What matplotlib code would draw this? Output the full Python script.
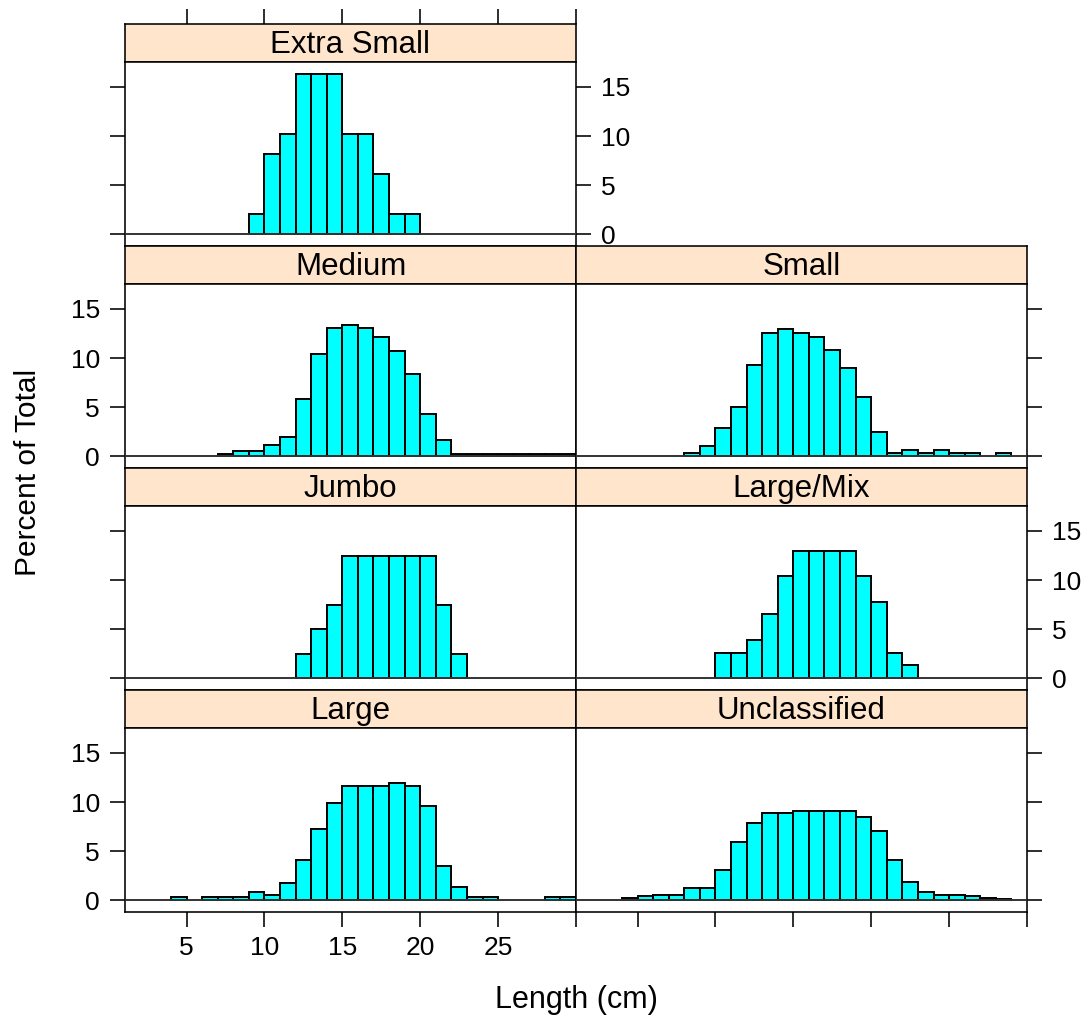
import numpy as np
import matplotlib
matplotlib.use("Agg")
import matplotlib.pyplot as plt

plt.rcParams["font.family"] = ["Liberation Sans", "DejaVu Sans"]

# Percent of total per 1-cm length bin; each series starts at its first bin edge (cm)
panel_names = ["Extra Small", "Medium", "Small", "Jumbo", "Large/Mix", "Large", "Unclassified"]

extra_small_start = 9
extra_small = [2.04, 8.16, 10.2, 16.33, 16.33, 16.33, 10.2, 10.2, 6.12, 2.04, 2.04]

medium_start = 7
medium = [0.24, 0.48, 0.48, 1.12, 1.9, 5.8, 10.43, 13.02, 13.4, 13.02, 12.17, 10.74,
          8.39, 4.3, 1.64, 0.24, 0.24, 0.24, 0.24, 0.24, 0.24, 0.24, 0.24]

small_start = 8
small = [0.27, 1.06, 2.83, 5.01, 9.31, 12.51, 12.92, 12.55, 12.14, 10.77, 8.97, 6.07,
         2.42, 0.27, 0.65, 0.27, 0.65, 0.27, 0.27, 0.0, 0.27]

jumbo_start = 12
jumbo = [2.5, 5.0, 7.5, 12.5, 12.5, 12.5, 12.5, 12.5, 12.5, 7.5, 2.5]

large_mix_start = 10
large_mix = [2.6, 2.6, 3.9, 6.5, 10.4, 13.0, 13.0, 13.0, 13.0, 10.4, 7.8, 2.6, 1.3]

large_start = 4
large = [0.27, 0.0, 0.27, 0.27, 0.27, 0.85, 0.54, 1.77, 4.05, 7.21, 9.86, 11.63, 11.63,
         11.63, 11.9, 11.63, 9.59, 3.44, 1.36, 0.27, 0.27, 0.0, 0.0, 0.0, 0.27, 0.27]

unclassified_start = 4
unclassified = [0.2, 0.37, 0.51, 0.51, 1.19, 1.19, 3.03, 5.95, 7.86, 8.88, 8.84, 9.05,
                9.05, 9.05, 9.05, 8.47, 7.01, 4.08, 1.87, 0.78, 0.51, 0.51, 0.37, 0.2, 0.1]

x_ticks = [5, 10, 15, 20, 25, 30]
x_tick_labels = ["5", "10", "15", "20", "25", ""]
y_ticks = [0, 5, 10, 15]
y_tick_labels = ["0", "5", "10", "15"]

XLIM = (1.05, 30.0)
YLIM = (-1.22, 17.55)

W, H = 1090, 1025
fig = plt.figure(figsize=(W / 100, H / 100), dpi=100)


def box(x0, y0, x1, y1):
    return [x0 / W, 1 - y1 / H, (x1 - x0) / W, (y1 - y0) / H]


COLS = [(125, 576), (576, 1027)]
ROW_TOP = 24
ROW_STEP = 222
STRIP_H = 38

LW = 1.15
TICK_LEN = 11
TICK_FS = 19

layout = [
    ("Extra Small", extra_small_start, extra_small, 0, 0),
    ("Medium", medium_start, medium, 1, 0),
    ("Small", small_start, small, 1, 1),
    ("Jumbo", jumbo_start, jumbo, 2, 0),
    ("Large/Mix", large_mix_start, large_mix, 2, 1),
    ("Large", large_start, large, 3, 0),
    ("Unclassified", unclassified_start, unclassified, 3, 1),
]

for name, start, vals, row, col in layout:
    x0, x1 = COLS[col]
    st = ROW_TOP + ROW_STEP * row
    sb = st + STRIP_H
    pb = st + ROW_STEP

    # strip
    sax = fig.add_axes(box(x0, st, x1, sb))
    sax.set_facecolor("#ffe5cc")
    sax.set_xlim(*XLIM)
    sax.set_ylim(0, 1)
    sax.text(0.5, 0.45, name, transform=sax.transAxes, ha="center", va="center",
             fontsize=22.5)
    for sp in sax.spines.values():
        sp.set_linewidth(LW)
    sax.set_yticks([])
    if row == 0:
        sax.xaxis.tick_top()
        sax.set_xticks(x_ticks)
        sax.set_xticklabels([])
        sax.tick_params(axis="x", direction="out", length=TICK_LEN, width=LW)
    else:
        sax.set_xticks([])

    # panel
    ax = fig.add_axes(box(x0, sb, x1, pb))
    vals = np.asarray(vals, dtype=float)
    lefts = start + np.arange(len(vals))
    keep = vals > 0
    ax.bar(lefts[keep], vals[keep], width=1.0, align="edge", color="#00ffff",
           edgecolor="black", linewidth=1.4, zorder=2)
    ax.axhline(0, color="#333333", linewidth=1.4, zorder=3)
    ax.set_xlim(*XLIM)
    ax.set_ylim(*YLIM)
    for sp in ax.spines.values():
        sp.set_linewidth(LW)

    # y axis: alternating labels
    ax.set_yticks(y_ticks)
    left_side = col == 0
    right_side = col == 1 or name == "Extra Small"
    label_left = name in ("Medium", "Large")
    label_right = name in ("Extra Small", "Large/Mix")
    ax.tick_params(axis="y", direction="out", length=TICK_LEN, width=LW,
                   left=left_side, right=right_side,
                   labelleft=label_left, labelright=label_right,
                   labelsize=TICK_FS, pad=7)
    ax.set_yticklabels(y_tick_labels)

    # x axis on bottom row only
    if row == 3:
        ax.set_xticks(x_ticks)
        ax.set_xticklabels(x_tick_labels)
        ax.tick_params(axis="x", direction="out", length=TICK_LEN, width=LW,
                       labelbottom=(col == 0), labelsize=TICK_FS, pad=6)
    else:
        ax.set_xticks([])

fig.text(576 / W, 1 - 1000 / H, "Length (cm)", ha="center", va="center", fontsize=22)
fig.text(28 / W, 1 - 472 / H, "Percent of Total", ha="center", va="center",
         rotation=90, fontsize=21.5)

fig.savefig("out.png", dpi=100)
